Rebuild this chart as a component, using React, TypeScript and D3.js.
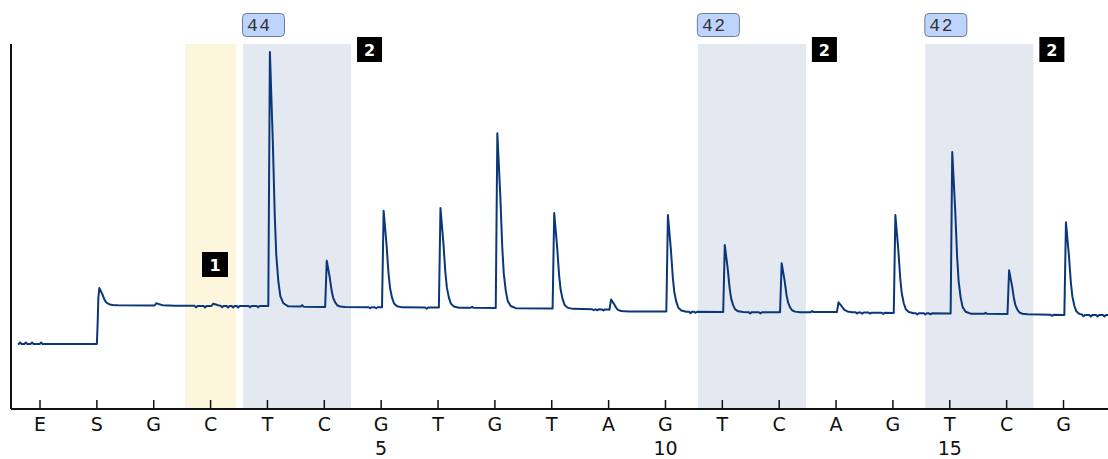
import React from "react";
import * as d3 from "d3";

// ---- data ----
const dispensations = ["E", "S", "G", "C", "T", "C", "G", "T", "G", "T", "A", "G", "T", "C", "A", "G", "T", "C", "G"];
// peak height above local baseline, per dispensation (index 1 = overshoot of the substrate step)
const peakHeights = [0, 17, 2.2, 2.3, 254, 46.3, 96.6, 99.5, 174.7, 95.5, 10.5, 96.5, 67, 49, 9.7, 98, 161.5, 43.7, 92.7];
// baseline level anchors (dispensation position, signal)
const baselineX = [-0.39, 1.0, 1.026, 2, 3, 4, 5, 6, 7, 8, 9, 10, 10.16, 11, 12, 13, 14, 15, 16, 17, 18, 18.8];
const baselineV = [65, 65, 104, 103.5, 103, 103, 102, 101.7, 101.5, 101, 100.5, 99.5, 97.5, 97.5, 97, 96.7, 97, 96, 95.5, 95, 94, 94];
// small noise blips (position, amplitude)
const blipX = [-0.35, -0.25, -0.14, 0.02, 2.745, 2.903, 3.203, 3.308, 3.396, 3.484, 3.695, 3.836, 4.61, 5.807, 5.912, 6.8, 7.6, 9.74, 9.8, 9.91, 11.44, 11.53, 12.49, 12.67, 13.58, 14.37, 14.46, 14.6, 14.83, 15.43, 15.57, 15.66, 16.63, 17.8, 18.35, 18.48, 18.6, 18.72];
const blipA = [1.5, 1.5, 1.5, 1.5, -1.5, -1.5, -1.5, -1.5, -1.5, -1.5, -1.2, -1.2, 1.5, -1, -1, -1.2, 1, -1, -1, -1, -1.5, -1, -1.2, -1.2, 1, -1.2, -1.2, -1, -1, -1.2, -1.2, -1, 1, -1, -1.5, -1.5, -1.5, -1.5];
// highlighted regions: [first dispensation, last dispensation]
const grayRegions = [[4, 5], [12, 13], [16, 17]];
const grayLabels = ["44", "42", "42"];
const grayBadges = ["2", "2", "2"];
const yellowRegions = [[3, 3]];
const yellowBadges = ["1"];

// peak profile (offset in dispensation units, fraction of height)
const profileOff = [0, 1.6, 4.5, 6.5, 8, 10, 12, 15, 20].map((p) => p / 56.83);
const profileFrac = [0, 1, 0.65, 0.35, 0.2, 0.1, 0.04, 0.012, 0];

export default function App() {
  const W = 1108, H = 459;
  const x = d3.scaleLinear().domain([0, 18]).range([40, 1063.5]);
  const y = d3.scaleLinear().domain([0, 365]).range([409, 44]);
  const base = d3.scaleLinear().domain(baselineX).range(baselineV).clamp(true);
  const prof = d3.scaleLinear().domain(profileOff).range(profileFrac).clamp(true);
  const pMax = profileOff[profileOff.length - 1];
  const bw = 1.5 / 56.83;

  const xsSet = new Set<number>();
  baselineX.forEach((v) => xsSet.add(v));
  peakHeights.forEach((h, i) => {
    if (h > 0) profileOff.forEach((o) => xsSet.add(i + 0.015 + o));
  });
  blipX.forEach((b) => { xsSet.add(b - bw); xsSet.add(b); xsSet.add(b + bw); });
  const xs = Array.from(xsSet).filter((v) => v >= baselineX[0] && v <= baselineX[baselineX.length - 1]).sort((a, b) => a - b);

  const pts: [number, number][] = xs.map((px) => {
    let v = base(px);
    peakHeights.forEach((h, i) => {
      const t = px - i - 0.015;
      if (h > 0 && t >= 0 && t <= pMax) v += h * prof(t);
    });
    blipX.forEach((b, k) => {
      const d = Math.abs(px - b);
      if (d < bw) v += blipA[k] * (1 - d / bw);
    });
    return [px, v];
  });

  const line = d3.line<[number, number]>().x((d) => x(d[0])).y((d) => y(d[1]));
  const pad = 0.45;
  const top = y(365);
  const bottom = y(0);
  const axisLeft = 11;
  const sans = "DejaVu Sans, Verdana, sans-serif";

  return (
    <svg width={W} height={H} style={{ position: "absolute", left: 0, top: 0, background: "#fff" }}>
      {yellowRegions.map((r, i) => (
        <rect key={"y" + i} x={x(r[0] - pad)} y={top} width={x(r[1] + pad) - x(r[0] - pad)} height={bottom - top} fill="#fcf7dc" />
      ))}
      {grayRegions.map((r, i) => (
        <rect key={"g" + i} x={x(r[0] - pad + 0.02)} y={top} width={x(r[1] + pad + 0.02) - x(r[0] - pad + 0.02)} height={bottom - top} fill="#e4e9f1" />
      ))}
      {/* axes */}
      <line x1={axisLeft} x2={axisLeft} y1={top} y2={bottom} stroke="#111" strokeWidth={2} />
      <line x1={axisLeft} x2={W} y1={bottom} y2={bottom} stroke="#111" strokeWidth={2} />
      {dispensations.map((d, i) => (
        <g key={"t" + i} transform={`translate(${x(i)},0)`}>
          <line y1={bottom - 9} y2={bottom} stroke="#111" strokeWidth={1.5} />
          <text y={431} textAnchor="middle" fontFamily={sans} fontSize={19} fill="#111">{d}</text>
          {i > 1 && (i - 1) % 5 === 0 ? (
            <text y={455} textAnchor="middle" fontFamily={sans} fontSize={19} fill="#111">{i - 1}</text>
          ) : null}
        </g>
      ))}
      {/* trace */}
      <path d={line(pts) || ""} fill="none" stroke="#0a377a" strokeWidth={2} strokeLinejoin="round" />
      {/* badges */}
      {yellowRegions.map((r, i) => (
        <g key={"yb" + i} transform={`translate(${x(r[0] - pad) + 17},252)`}>
          <rect width={26} height={25} fill="#000" />
          <text x={13} y={19} textAnchor="middle" fontFamily={sans} fontWeight="bold" fontSize={16} fill="#fff">{yellowBadges[i]}</text>
        </g>
      ))}
      {grayRegions.map((r, i) => (
        <g key={"gb" + i}>
          <g transform={`translate(${x(r[1] + pad + 0.02) + 6},37)`}>
            <rect width={25} height={25} fill="#000" />
            <text x={12.5} y={19} textAnchor="middle" fontFamily={sans} fontWeight="bold" fontSize={16} fill="#fff">{grayBadges[i]}</text>
          </g>
          <g transform={`translate(${x(r[0] - pad + 0.02) - 0.5},13.5)`}>
            <rect width={42} height={23} rx={4} ry={4} fill="#bed4fc" stroke="#6d7c9c" strokeWidth={1} />
            <text x={4.5} y={17.5} textAnchor="start" fontFamily="Liberation Mono, monospace" fontSize={18} letterSpacing={1.5} fill="#333">{grayLabels[i]}</text>
          </g>
        </g>
      ))}
    </svg>
  );
}
